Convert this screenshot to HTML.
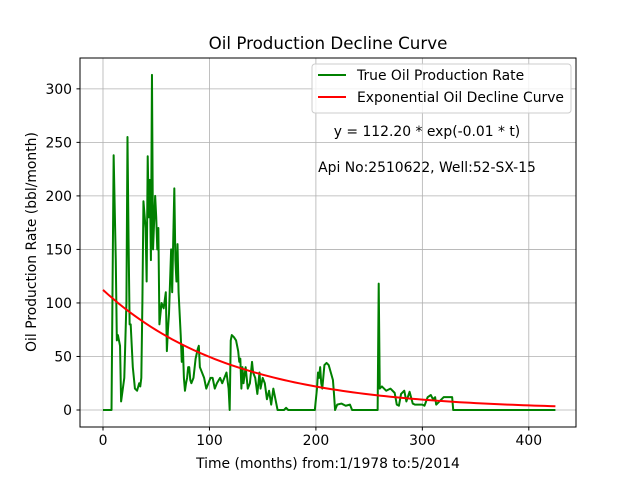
<!DOCTYPE html>
<html><head><meta charset="utf-8"><style>
body{margin:0;background:#fff}
svg{display:block;font-family:"DejaVu Sans","Liberation Sans",sans-serif}
</style></head><body>
<svg id="chart" width="640" height="480" viewBox="0 0 640 480" xmlns="http://www.w3.org/2000/svg">
<rect width="640" height="480" fill="#fff"/>
<g id="grid"></g>
<g id="series"></g>
<rect x="80" y="58" width="496" height="369" fill="none" stroke="#000" stroke-width="1"/>
<g id="ticks"></g>
<text x="328" y="49" font-size="16.7" text-anchor="middle">Oil Production Decline Curve</text>
<text x="328" y="468" font-size="13.9" text-anchor="middle">Time (months) from:1/1978 to:5/2014</text>
<text transform="translate(36,242) rotate(-90)" font-size="13.9" text-anchor="middle">Oil Production Rate (bbl/month)</text>
<g>
<rect x="312" y="64" width="259" height="49" rx="3" fill="#fff" fill-opacity="0.8" stroke="#ccc"/>
<line x1="318" y1="75" x2="346" y2="75" stroke="#008000" stroke-width="2"/>
<text x="357" y="80" font-size="13.9">True Oil Production Rate</text>
<line x1="318" y1="97" x2="346" y2="97" stroke="#ff0000" stroke-width="2"/>
<text x="357" y="102" font-size="13.9">Exponential Oil Decline Curve</text>
</g>
<text x="427" y="136" font-size="13.9" text-anchor="middle">y = 112.20 * exp(-0.01 * t)</text>
<text x="427" y="172" font-size="13.9" text-anchor="middle">Api No:2510622, Well:52-SX-15</text>
</svg>
<script>
const months=[0,8,10,12,13,14,16,17,20,22,23,24,25,26,28,30,32,34,35,36,37,38,40,41,42,43,44,45,46,47,49,50,51,52,53,55,57,59,60,61,62,64,65,66,67,68,69,70,71,73,74,75,76,77,78,79,80,81,82,83,85,87,89,90,91,93,95,97,99,101,103,105,107,110,112,114,116,118,119,120,121,123,125,127,128,129,130,131,132,134,135,136,138,140,141,143,145,147,148,150,152,154,156,158,160,162,164,170,172,174,199,201,202,203,204,205,206,208,210,212,214,216,217,218,220,224,228,232,234,258,259,260,262,266,270,274,276,278,280,283,285,288,291,293,296,300,302,305,308,310,312,313,320,328,329,425];
const rates=[0,0,238,140,65,70,60,8,30,100,255,160,80,80,40,20,18,25,22,30,100,195,170,120,237,180,215,140,313,150,200,180,150,170,80,100,95,110,55,75,90,150,110,160,207,140,120,155,110,70,45,60,30,18,25,30,40,40,28,25,30,48,57,60,40,35,30,20,25,30,30,20,25,30,25,30,35,20,0,65,70,68,65,55,45,48,20,40,25,40,30,20,25,45,35,30,15,35,20,30,25,10,18,5,20,10,0,0,2,0,0,20,35,30,40,25,20,42,44,42,35,28,15,0,5,6,4,5,0,0,118,20,22,18,20,16,5,4,15,18,8,17,6,5,5,5,4,12,14,10,12,5,12,12,0,0];
const fitA=112.2, fitK=0.00816, fitEnd=425;
const xTicks=[0,100,200,300,400], yTicks=[0,50,100,150,200,250,300];
const X=t=>103+t*1.0645, Y=v=>410-v*1.0705;
const NS="http://www.w3.org/2000/svg";
function mk(tag,attrs,parent){const e=document.createElementNS(NS,tag);for(const k in attrs)e.setAttribute(k,attrs[k]);document.getElementById(parent).appendChild(e);return e;}
xTicks.forEach(t=>{
 const g=mk('line',{x1:X(t),x2:X(t),y1:58,y2:427,stroke:'#b0b0b0','stroke-width':0.8},'grid');
 
 
 mk('line',{x1:X(t),x2:X(t),y1:427,y2:430.5,stroke:'#000'},'ticks');
 const l=mk('text',{x:X(t),y:445,'font-size':13.9,'text-anchor':'middle'},'ticks');
 l.textContent=t;
 
 
});
yTicks.forEach(v=>{
 const g=mk('line',{x1:80,x2:576,y1:Y(v),y2:Y(v),stroke:'#b0b0b0','stroke-width':0.8},'grid');
 
 
 mk('line',{x1:76.5,x2:80,y1:Y(v),y2:Y(v),stroke:'#000'},'ticks');
 const l=mk('text',{x:72,y:Y(v)+5,'font-size':13.9,'text-anchor':'end'},'ticks');
 l.textContent=v;
 
 
});
const n=Math.min(months.length,rates.length);
const pts=[];for(let i=0;i<n;i++)pts.push(X(months[i])+','+Y(rates[i]));
const p=mk('polyline',{points:pts.join(' '),fill:'none',stroke:'#008000','stroke-width':2,'stroke-linejoin':'round'},'series');


const fp=[];for(let t=0;t<=fitEnd;t+=5)fp.push(X(t)+','+Y(fitA*Math.exp(-fitK*t)));
const f=mk('polyline',{points:fp.join(' '),fill:'none',stroke:'#ff0000','stroke-width':2},'series');


</script>
</body></html>
